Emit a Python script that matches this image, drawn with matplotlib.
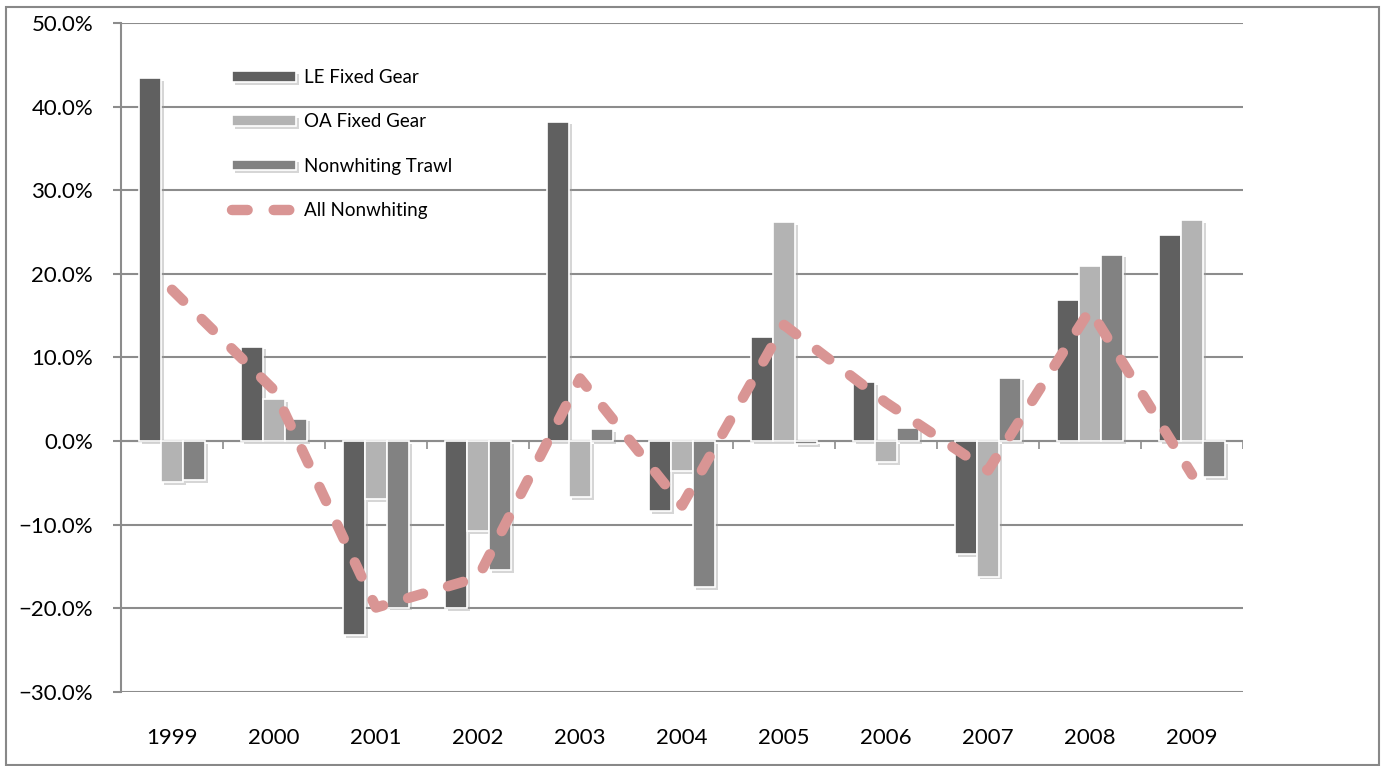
import numpy as np
import matplotlib
matplotlib.use('Agg')
import matplotlib.pyplot as plt
import matplotlib.patheffects as pe
from matplotlib.patches import Rectangle
from matplotlib.ticker import PercentFormatter

years = ['1999', '2000', '2001', '2002', '2003', '2004', '2005', '2006', '2007', '2008', '2009']
le_fixed = [43.4, 11.3, -23.2, -20.0, 38.2, -8.4, 12.5, 7.1, -13.5, 16.9, 24.7]
oa_fixed = [-4.9, 5.0, -6.9, -10.8, -6.7, -3.6, 26.2, -2.5, -16.2, 21.0, 26.4]
trawl = [-4.7, 2.7, -19.9, -15.4, 1.4, -17.5, -0.4, 1.6, 7.6, 22.3, -4.3]
all_nonwhiting = [18.1, 6.1, -19.9, -16.3, 7.5, -7.7, 13.9, 4.6, -3.5, 15.7, -4.0]

plt.rcParams['font.family'] = ['Lato', 'DejaVu Sans']

fig = plt.figure(figsize=(13.83, 7.66), dpi=100)
ax = fig.add_axes([0.0875, 0.0966, 0.8113, 0.8734])

x = np.arange(len(years))
w = 0.215
shadow = [pe.SimplePatchShadow(offset=(2, -2), shadow_rgbFace='#9a9a9a', alpha=0.4), pe.Normal()]
series = [(le_fixed, '#606060', 'LE Fixed Gear', -w),
          (oa_fixed, '#b3b3b3', 'OA Fixed Gear', 0),
          (trawl, '#828282', 'Nonwhiting Trawl', w)]
handles = []
for vals, col, lab, off in series:
    bars = ax.bar(x + off, vals, w, color=col, edgecolor='white', linewidth=1.2,
                  label=lab, zorder=3)
    for b in bars:
        b.set_path_effects(shadow)
    handles.append(bars)

line, = ax.plot(x, all_nonwhiting, color='#d99594', lw=7.5, solid_capstyle='round',
                dash_capstyle='round', label='All Nonwhiting', zorder=4)
line.set_dashes((1.5, 2.5))
handles.append(line)

ax.set_xlim(-0.5, len(years) - 0.5)
ax.set_ylim(-30, 50)
ax.set_yticks(np.arange(-30, 51, 10))
ax.yaxis.set_major_formatter(PercentFormatter(decimals=1))
ax.grid(axis='y', color='#8c8c8c', lw=1.5, zorder=0)
ax.axhline(0, color='#8c8c8c', lw=1.5, zorder=2)
# small tick marks between the groups, under the zero line
ax.vlines(np.arange(len(years) + 1) - 0.5, -0.9, 0, color='#8c8c8c', lw=1.2, zorder=2)

for s in ['top', 'right', 'bottom']:
    ax.spines[s].set_visible(False)
ax.spines['left'].set_color('#8c8c8c')
ax.spines['left'].set_linewidth(1.5)
ax.tick_params(axis='y', length=6, width=1.5, color='#8c8c8c', pad=14, labelsize=16)
ax.set_xticks(x)
ax.set_xticklabels(years)
ax.tick_params(axis='x', length=0, pad=26, labelsize=16)

leg = ax.legend(handles=handles, loc='upper left', bbox_to_anchor=(0.084, 0.956),
                frameon=False, fontsize=13.5, handlelength=3.4, handleheight=0.5,
                labelspacing=1.45, handletextpad=0.45)

fig.patches.append(Rectangle((6 / 1383, 1 / 766), 1373 / 1383, 758 / 766,
                             transform=fig.transFigure, fill=False,
                             edgecolor='#888888', lw=1.5))

fig.savefig('out.png', dpi=100)
